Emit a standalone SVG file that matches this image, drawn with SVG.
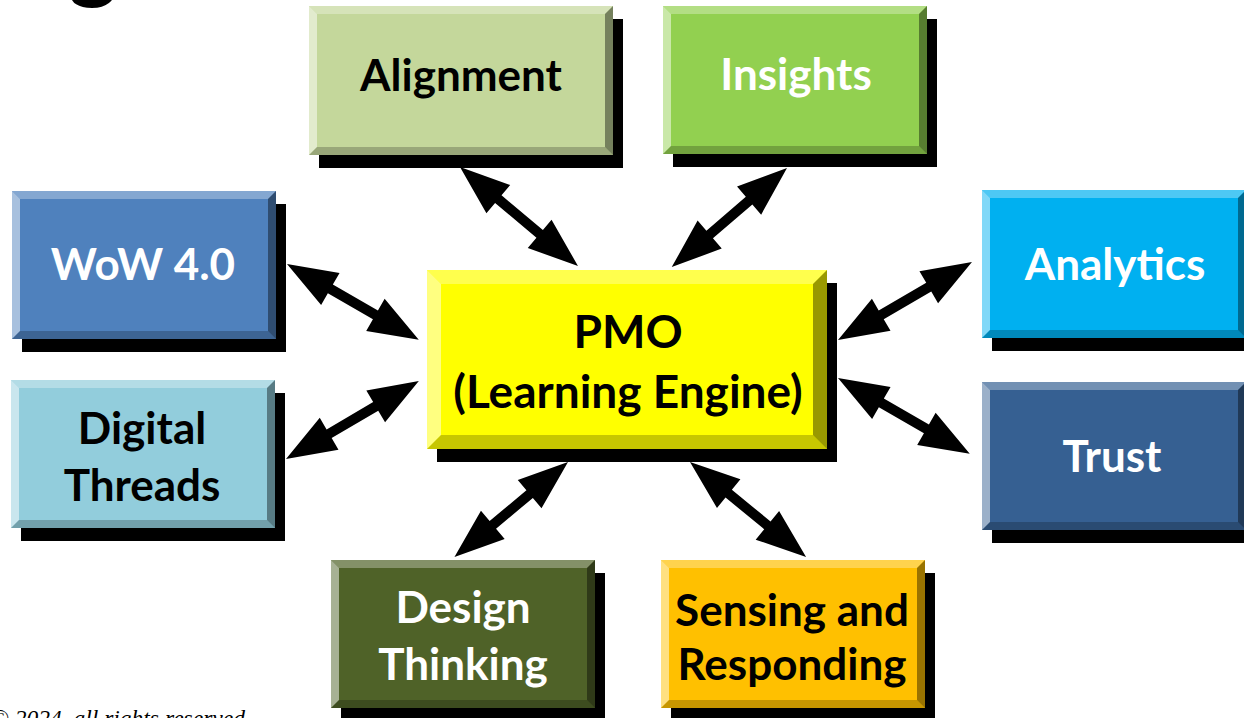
<svg xmlns="http://www.w3.org/2000/svg" xmlns:xlink="http://www.w3.org/1999/xlink" width="1244" height="718" viewBox="0 0 1244 718">
<style>
.bl{fill:#fff;fill-opacity:.5}
.bt{fill:#fff;fill-opacity:.3}
.br{fill:#000;fill-opacity:.4}
.bb{fill:#000;fill-opacity:.22}
.sh{fill:#000}
.t{font-family:Lato,"Open Sans",sans-serif;font-weight:700;font-size:44px;text-anchor:middle}
.pm{font-size:46px}
.w{fill:#fff}
.k{fill:#000}
.arr{fill:#000}
.foot{font-family:"Liberation Serif",serif;font-style:italic;font-size:23.5px;fill:#000}
</style>
<defs>
<g id="bev">
<polygon class="bl" points="0,0 8,8 8,140 0,148"/>
<polygon class="bt" points="0,0 264,0 256,8 8,8"/>
<polygon class="br" points="264,0 264,148 256,140 256,8"/>
<polygon class="bb" points="0,148 8,140 256,140 264,148"/>
</g>
<rect id="shd" class="sh" x="10" y="13" width="264" height="148"/>
</defs>

<text class="t k" x="93" y="-9" style="font-size:92px">g</text>

<g id="connectors">
<polygon class="arr" transform="translate(460,167) rotate(40)" points="0,0 50,-18.5 50,-5 104,-5 104,-18.5 154,0 104,18.5 104,5 50,5 50,18.5"/>
<polygon class="arr" transform="translate(787,168) rotate(139.3)" points="0,0 50,-18.5 50,-5 102,-5 102,-18.5 152,0 102,18.5 102,5 50,5 50,18.5"/>
<polygon class="arr" transform="translate(287,264) rotate(29.9)" points="0,0 50,-18.5 50,-5 102,-5 102,-18.5 152,0 102,18.5 102,5 50,5 50,18.5"/>
<polygon class="arr" transform="translate(286,459) rotate(-30.4)" points="0,0 50,-18.5 50,-5 104,-5 104,-18.5 154,0 104,18.5 104,5 50,5 50,18.5"/>
<polygon class="arr" transform="translate(838,340) rotate(-30.2)" points="0,0 50,-18.5 50,-5 105,-5 105,-18.5 155,0 105,18.5 105,5 50,5 50,18.5"/>
<polygon class="arr" transform="translate(838,378) rotate(29.9)" points="0,0 50,-18.5 50,-5 102,-5 102,-18.5 152,0 102,18.5 102,5 50,5 50,18.5"/>
<polygon class="arr" transform="translate(568,462) rotate(140.1)" points="0,0 50,-18.5 50,-5 98,-5 98,-18.5 148,0 98,18.5 98,5 50,5 50,18.5"/>
<polygon class="arr" transform="translate(690,462) rotate(39.3)" points="0,0 50,-18.5 50,-5 100,-5 100,-18.5 150,0 100,18.5 100,5 50,5 50,18.5"/>
</g>

<g id="alignment" transform="translate(309,6)">
<rect class="sh" x="10" y="13" width="304" height="149"/>
<rect x="0" y="0" width="304" height="149" fill="#C4D79B"/>
<polygon class="bl" points="0,0 8,8 8,141 0,149"/>
<polygon class="bt" points="0,0 304,0 296,8 8,8"/>
<polygon class="br" points="304,0 304,149 296,141 296,8"/>
<polygon class="bb" points="0,149 8,141 296,141 304,149"/>
<text class="t k" x="152" y="85">Alignment</text>
</g>

<g id="insights" transform="translate(663,6)">
<use xlink:href="#shd"/>
<rect width="264" height="148" fill="#92D050"/>
<use xlink:href="#bev"/>
<text class="t w" x="133" y="84">Insights</text>
</g>

<g id="wow" transform="translate(12,191)">
<use xlink:href="#shd"/>
<rect width="264" height="148" fill="#4F81BD"/>
<use xlink:href="#bev"/>
<text class="t w" x="131" y="89">WoW 4.0</text>
</g>

<g id="analytics" transform="translate(982,190)">
<use xlink:href="#shd"/>
<rect width="264" height="148" fill="#00B0F0"/>
<use xlink:href="#bev"/>
<text class="t w" x="133" y="90">Analytics</text>
</g>

<g id="digital-threads" transform="translate(11,380)">
<use xlink:href="#shd"/>
<rect width="264" height="148" fill="#92CDDC"/>
<use xlink:href="#bev"/>
<text class="t k" x="131" y="64">Digital</text>
<text class="t k" x="131" y="121">Threads</text>
</g>

<g id="trust" transform="translate(982,382)">
<use xlink:href="#shd"/>
<rect width="264" height="148" fill="#366092"/>
<use xlink:href="#bev"/>
<text class="t w" x="130" y="90">Trust</text>
</g>

<g id="design-thinking" transform="translate(331,560)">
<use xlink:href="#shd"/>
<rect width="264" height="148" fill="#4F6228"/>
<use xlink:href="#bev"/>
<text class="t w" x="132" y="63">Design</text>
<text class="t w" x="132" y="120">Thinking</text>
</g>

<g id="sensing-responding" transform="translate(661,560)">
<use xlink:href="#shd"/>
<rect width="264" height="148" fill="#FFC000"/>
<use xlink:href="#bev"/>
<text class="t k" x="131" y="66">Sensing and</text>
<text class="t k" x="131" y="120">Responding</text>
</g>

<g id="pmo" transform="translate(427,270)">
<rect class="sh" x="10" y="13" width="400" height="179"/>
<rect width="400" height="179" fill="#FFFF00"/>
<polygon class="bl" points="0,0 14,14 14,165 0,179"/>
<polygon class="bt" points="0,0 400,0 386,14 14,14"/>
<polygon class="br" points="400,0 400,179 386,165 386,14"/>
<polygon class="bb" points="0,179 14,165 386,165 400,179"/>
<text class="t pm k" x="201" y="78">PMO</text>
<text class="t pm k" x="201" y="138">(Learning Engine)</text>
</g>

<text class="foot" x="-9" y="725.5">© 2024, all rights reserved</text>
</svg>
